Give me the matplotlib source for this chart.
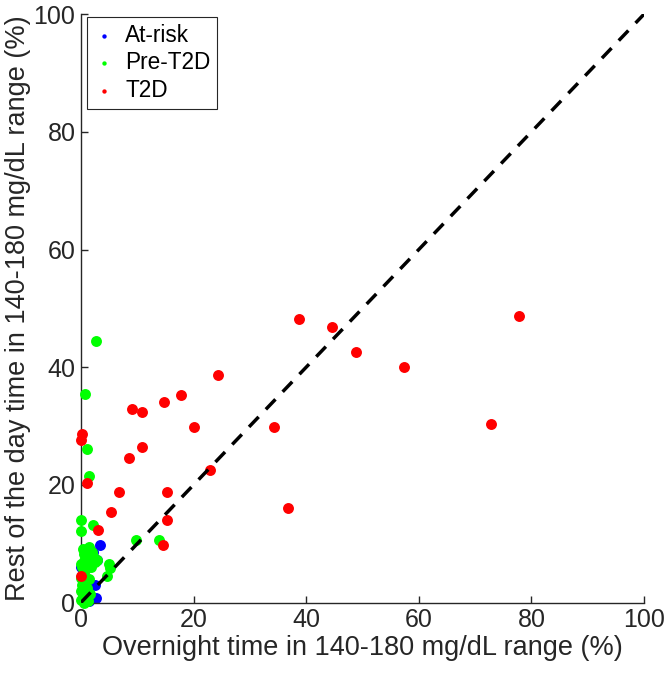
import numpy as np
import matplotlib.pyplot as plt

plt.rcParams['font.family'] = ['Liberation Sans', 'DejaVu Sans']

# At-risk group (overnight %, rest of day %)
atRiskX = [3.4, 2.8, 0.0, 2.5, 2.7, 1.4, 2.2]
atRiskY = [9.8, 7.3, 6.0, 3.0, 0.8, 0.2, 8.6]

# Pre-T2D group
preX = [2.7, 0.7, 1.0, 1.5, 0.0, 0.0, 2.2, 13.9, 9.8, 1.5,
        0.3, 0.5, 1.0, 2.0, 2.2, 2.5, 1.8, 1.2, 0.5, 0.2,
        0.8, 0.3, 0.0, 0.6, 0.2, 1.0, 0.0, 0.4, 0.0, 1.2,
        0.6, 1.6, 2.8, 5.0, 5.2, 4.6, 0.0, 1.5]
preY = [44.4, 35.5, 26.1, 21.5, 14.0, 12.2, 13.2, 10.7, 10.7, 9.5,
        9.1, 8.3, 8.9, 8.6, 7.9, 6.8, 6.1, 7.3, 7.1, 6.1,
        5.6, 4.9, 4.1, 3.5, 3.0, 2.5, 2.0, 1.2, 0.5, 0.2,
        0.0, 1.5, 7.3, 6.6, 5.8, 4.5, 6.6, 4.0]

# T2D group
t2dX = [77.8, 38.7, 44.6, 48.8, 57.4, 24.4, 17.8, 14.8, 9.1, 10.8,
        72.9, 20.1, 34.2, 0.2, 0.0, 10.9, 8.6, 22.9, 1.1, 6.7,
        15.2, 36.8, 5.3, 15.2, 3.0, 14.5, 0.0]
t2dY = [48.7, 48.2, 46.8, 42.6, 40.0, 38.6, 35.2, 34.0, 32.9, 32.3,
        30.4, 29.9, 29.8, 28.7, 27.6, 26.4, 24.5, 22.5, 20.3, 18.8,
        18.7, 16.0, 15.4, 14.1, 12.4, 9.8, 4.5]

groupNames = ['At-risk', 'Pre-T2D', 'T2D']
groupColors = [(0, 0, 1), (0, 1, 0), (1, 0, 0)]
ticks = [0, 20, 40, 60, 80, 100]

fig = plt.figure(figsize=(6.66, 6.75), dpi=100)
ax = fig.add_axes([0.1216, 0.1074, 0.8454, 0.8716])

groups = [(atRiskX, atRiskY), (preX, preY), (t2dX, t2dY)]
for i in range(len(groups)):
    ax.scatter(groups[i][0], groups[i][1], s=62, color=groupColors[i],
               linewidths=0, label=groupNames[i], zorder=2 + i, clip_on=False)

# Identity line
ax.plot([0, 100], [0, 100], color='k', linestyle=(0, (4, 3)), linewidth=2.5, zorder=6)

ax.set_xlim(0, 100)
ax.set_ylim(0, 100)
ax.set_xticks(ticks)
ax.set_yticks(ticks)
ax.spines['top'].set_visible(False)
ax.spines['right'].set_visible(False)
for side in ['left', 'bottom']:
    ax.spines[side].set_color('#262626')
    ax.spines[side].set_linewidth(1.0)
ax.tick_params(direction='in', length=5, width=1, color='#262626',
               labelsize=18, labelcolor='#262626', pad=4)

ax.set_xlabel('Overnight time in 140-180 mg/dL range (%)', fontsize=19.5,
              color='#262626', labelpad=2)
ax.set_ylabel('Rest of the day time in 140-180 mg/dL range (%)', fontsize=19.5,
              color='#262626', labelpad=2)

leg = ax.legend(loc='upper left', bbox_to_anchor=(0.01, 0.995), fontsize=16.3,
                markerscale=0.4, handlelength=0.9, handletextpad=0.5, borderpad=0.3,
                labelspacing=0.2, borderaxespad=0, fancybox=False, framealpha=1)
leg.get_frame().set_edgecolor('#262626')
leg.get_frame().set_linewidth(0.8)

fig.savefig('out.png', dpi=100)
